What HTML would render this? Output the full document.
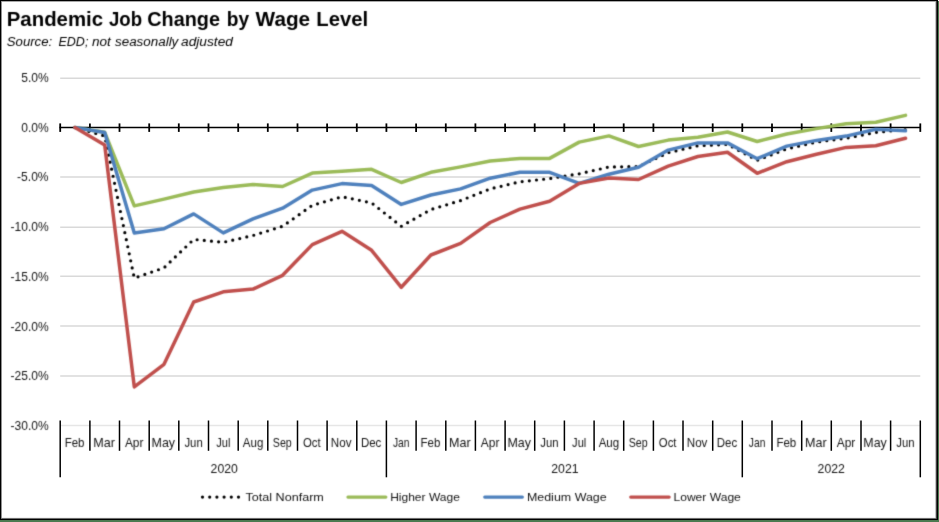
<!DOCTYPE html>
<html><head><meta charset="utf-8"><title>Pandemic Job Change by Wage Level</title>
<style>
html,body{margin:0;padding:0;background:#fff;}
body{width:939px;height:522px;overflow:hidden;position:relative;font-family:"Liberation Sans",sans-serif;}
svg{position:absolute;left:0;top:0;display:block;}
text{font-family:"Liberation Sans",sans-serif;fill:#000;}
.t{font-weight:bold;font-size:20.5px;}
.s{font-style:italic;font-size:12.5px;}
.a{font-size:12.4px;fill:#141414;}
.l{font-size:11.5px;fill:#141414;}
</style></head><body>
<svg width="939" height="522" viewBox="0 0 939 522">

<defs><filter id="soft" x="0" y="0" width="939" height="522" filterUnits="userSpaceOnUse" color-interpolation-filters="sRGB"><feConvolveMatrix order="3" kernelMatrix="0.0192 0.1001 0.0192 0.1001 0.5228 0.1001 0.0192 0.1001 0.0192" edgeMode="duplicate" preserveAlpha="false"/></filter></defs>
<rect x="0" y="0" width="939" height="522" fill="#fff"/>
<rect x="0" y="1" width="938" height="1" fill="#a8a8a8"/>
<rect x="1" y="0" width="1" height="520" fill="#909090"/>
<rect x="0" y="0" width="938" height="1" fill="#000"/>
<rect x="0" y="0" width="1" height="520" fill="#000"/>
<rect x="2" y="517" width="934" height="1" fill="#f2f2f2"/>
<rect x="1" y="518" width="936" height="1" fill="#6e6e6e"/>
<rect x="0" y="519" width="938" height="1" fill="#000"/>
<rect x="935" y="2" width="1" height="516" fill="#c4c4c4"/>
<rect x="936" y="1" width="1" height="518" fill="#404040"/>
<rect x="937" y="0" width="1" height="520" fill="#000"/>
<rect x="938" y="1" width="1" height="522" fill="#4b7a50"/>
<rect x="0" y="520" width="939" height="2" fill="#4b7a50"/>
<line x1="60.2" x2="920.3" y1="78.15" y2="78.15" stroke="#d9d9d9" stroke-width="1.5"/>
<line x1="60.2" x2="920.3" y1="176.95" y2="176.95" stroke="#d9d9d9" stroke-width="1.5"/>
<line x1="60.2" x2="920.3" y1="227.15" y2="227.15" stroke="#d9d9d9" stroke-width="1.5"/>
<line x1="60.2" x2="920.3" y1="276.35" y2="276.35" stroke="#d9d9d9" stroke-width="1.5"/>
<line x1="60.2" x2="920.3" y1="326.0" y2="326.0" stroke="#d9d9d9" stroke-width="1.5"/>
<line x1="60.2" x2="920.3" y1="376.0" y2="376.0" stroke="#d9d9d9" stroke-width="1.5"/>
<line x1="60.2" x2="920.3" y1="425.45" y2="425.45" stroke="#e6e6e6" stroke-width="1.5"/>
<line x1="60.2" x2="60.2" y1="420.5" y2="477.3" stroke="#000" stroke-width="1.5"/>
<line x1="89.9" x2="89.9" y1="420.5" y2="450.8" stroke="#000" stroke-width="1.5"/>
<line x1="119.5" x2="119.5" y1="420.5" y2="450.8" stroke="#000" stroke-width="1.5"/>
<line x1="149.2" x2="149.2" y1="420.5" y2="450.8" stroke="#000" stroke-width="1.5"/>
<line x1="178.8" x2="178.8" y1="420.5" y2="450.8" stroke="#000" stroke-width="1.5"/>
<line x1="208.5" x2="208.5" y1="420.5" y2="450.8" stroke="#000" stroke-width="1.5"/>
<line x1="238.2" x2="238.2" y1="420.5" y2="450.8" stroke="#000" stroke-width="1.5"/>
<line x1="267.8" x2="267.8" y1="420.5" y2="450.8" stroke="#000" stroke-width="1.5"/>
<line x1="297.5" x2="297.5" y1="420.5" y2="450.8" stroke="#000" stroke-width="1.5"/>
<line x1="327.1" x2="327.1" y1="420.5" y2="450.8" stroke="#000" stroke-width="1.5"/>
<line x1="356.8" x2="356.8" y1="420.5" y2="450.8" stroke="#000" stroke-width="1.5"/>
<line x1="386.4" x2="386.4" y1="420.5" y2="477.3" stroke="#000" stroke-width="1.5"/>
<line x1="416.1" x2="416.1" y1="420.5" y2="450.8" stroke="#000" stroke-width="1.5"/>
<line x1="445.8" x2="445.8" y1="420.5" y2="450.8" stroke="#000" stroke-width="1.5"/>
<line x1="475.4" x2="475.4" y1="420.5" y2="450.8" stroke="#000" stroke-width="1.5"/>
<line x1="505.1" x2="505.1" y1="420.5" y2="450.8" stroke="#000" stroke-width="1.5"/>
<line x1="534.7" x2="534.7" y1="420.5" y2="450.8" stroke="#000" stroke-width="1.5"/>
<line x1="564.4" x2="564.4" y1="420.5" y2="450.8" stroke="#000" stroke-width="1.5"/>
<line x1="594.1" x2="594.1" y1="420.5" y2="450.8" stroke="#000" stroke-width="1.5"/>
<line x1="623.7" x2="623.7" y1="420.5" y2="450.8" stroke="#000" stroke-width="1.5"/>
<line x1="653.4" x2="653.4" y1="420.5" y2="450.8" stroke="#000" stroke-width="1.5"/>
<line x1="683.0" x2="683.0" y1="420.5" y2="450.8" stroke="#000" stroke-width="1.5"/>
<line x1="712.7" x2="712.7" y1="420.5" y2="450.8" stroke="#000" stroke-width="1.5"/>
<line x1="742.3" x2="742.3" y1="420.5" y2="477.3" stroke="#000" stroke-width="1.5"/>
<line x1="772.0" x2="772.0" y1="420.5" y2="450.8" stroke="#000" stroke-width="1.5"/>
<line x1="801.7" x2="801.7" y1="420.5" y2="450.8" stroke="#000" stroke-width="1.5"/>
<line x1="831.3" x2="831.3" y1="420.5" y2="450.8" stroke="#000" stroke-width="1.5"/>
<line x1="861.0" x2="861.0" y1="420.5" y2="450.8" stroke="#000" stroke-width="1.5"/>
<line x1="890.6" x2="890.6" y1="420.5" y2="450.8" stroke="#000" stroke-width="1.5"/>
<line x1="920.3" x2="920.3" y1="420.5" y2="477.3" stroke="#000" stroke-width="1.5"/>
<line x1="59.5" x2="921" y1="127.5" y2="127.5" stroke="#000" stroke-width="1.6"/>
<line x1="60.2" x2="60.2" y1="123.4" y2="131.9" stroke="#000" stroke-width="1.8"/>
<line x1="89.9" x2="89.9" y1="123.4" y2="131.9" stroke="#000" stroke-width="1.8"/>
<line x1="119.5" x2="119.5" y1="123.4" y2="131.9" stroke="#000" stroke-width="1.8"/>
<line x1="149.2" x2="149.2" y1="123.4" y2="131.9" stroke="#000" stroke-width="1.8"/>
<line x1="178.8" x2="178.8" y1="123.4" y2="131.9" stroke="#000" stroke-width="1.8"/>
<line x1="208.5" x2="208.5" y1="123.4" y2="131.9" stroke="#000" stroke-width="1.8"/>
<line x1="238.2" x2="238.2" y1="123.4" y2="131.9" stroke="#000" stroke-width="1.8"/>
<line x1="267.8" x2="267.8" y1="123.4" y2="131.9" stroke="#000" stroke-width="1.8"/>
<line x1="297.5" x2="297.5" y1="123.4" y2="131.9" stroke="#000" stroke-width="1.8"/>
<line x1="327.1" x2="327.1" y1="123.4" y2="131.9" stroke="#000" stroke-width="1.8"/>
<line x1="356.8" x2="356.8" y1="123.4" y2="131.9" stroke="#000" stroke-width="1.8"/>
<line x1="386.4" x2="386.4" y1="123.4" y2="131.9" stroke="#000" stroke-width="1.8"/>
<line x1="416.1" x2="416.1" y1="123.4" y2="131.9" stroke="#000" stroke-width="1.8"/>
<line x1="445.8" x2="445.8" y1="123.4" y2="131.9" stroke="#000" stroke-width="1.8"/>
<line x1="475.4" x2="475.4" y1="123.4" y2="131.9" stroke="#000" stroke-width="1.8"/>
<line x1="505.1" x2="505.1" y1="123.4" y2="131.9" stroke="#000" stroke-width="1.8"/>
<line x1="534.7" x2="534.7" y1="123.4" y2="131.9" stroke="#000" stroke-width="1.8"/>
<line x1="564.4" x2="564.4" y1="123.4" y2="131.9" stroke="#000" stroke-width="1.8"/>
<line x1="594.1" x2="594.1" y1="123.4" y2="131.9" stroke="#000" stroke-width="1.8"/>
<line x1="623.7" x2="623.7" y1="123.4" y2="131.9" stroke="#000" stroke-width="1.8"/>
<line x1="653.4" x2="653.4" y1="123.4" y2="131.9" stroke="#000" stroke-width="1.8"/>
<line x1="683.0" x2="683.0" y1="123.4" y2="131.9" stroke="#000" stroke-width="1.8"/>
<line x1="712.7" x2="712.7" y1="123.4" y2="131.9" stroke="#000" stroke-width="1.8"/>
<line x1="742.3" x2="742.3" y1="123.4" y2="131.9" stroke="#000" stroke-width="1.8"/>
<line x1="772.0" x2="772.0" y1="123.4" y2="131.9" stroke="#000" stroke-width="1.8"/>
<line x1="801.7" x2="801.7" y1="123.4" y2="131.9" stroke="#000" stroke-width="1.8"/>
<line x1="831.3" x2="831.3" y1="123.4" y2="131.9" stroke="#000" stroke-width="1.8"/>
<line x1="861.0" x2="861.0" y1="123.4" y2="131.9" stroke="#000" stroke-width="1.8"/>
<line x1="890.6" x2="890.6" y1="123.4" y2="131.9" stroke="#000" stroke-width="1.8"/>
<line x1="920.3" x2="920.3" y1="123.4" y2="131.9" stroke="#000" stroke-width="1.8"/>
<g filter="url(#soft)">
<text class="t" x="6.76" y="25.6" textLength="96.35" lengthAdjust="spacingAndGlyphs">Pandemic</text>
<text class="t" x="108.97" y="25.6" textLength="33.09" lengthAdjust="spacingAndGlyphs">Job</text>
<text class="t" x="147.27" y="25.6" textLength="72.69" lengthAdjust="spacingAndGlyphs">Change</text>
<text class="t" x="226.83" y="25.6" textLength="22.34" lengthAdjust="spacingAndGlyphs">by</text>
<text class="t" x="255.60" y="25.6" textLength="54.58" lengthAdjust="spacingAndGlyphs">Wage</text>
<text class="t" x="316.27" y="25.6" textLength="51.74" lengthAdjust="spacingAndGlyphs">Level</text>
<text class="s" x="6.77" y="46.2" textLength="45.45" lengthAdjust="spacingAndGlyphs">Source:</text>
<text class="s" x="58.50" y="46.2" textLength="29.88" lengthAdjust="spacingAndGlyphs">EDD;</text>
<text class="s" x="92.03" y="46.2" textLength="18.88" lengthAdjust="spacingAndGlyphs">not</text>
<text class="s" x="115.03" y="46.2" textLength="63.32" lengthAdjust="spacingAndGlyphs">seasonally</text>
<text class="s" x="181.03" y="46.2" textLength="51.92" lengthAdjust="spacingAndGlyphs">adjusted</text>
<text class="a" x="21.21" y="82.0" textLength="27.47" lengthAdjust="spacingAndGlyphs">5.0%</text>
<text class="a" x="21.21" y="132.0" textLength="27.47" lengthAdjust="spacingAndGlyphs">0.0%</text>
<text class="a" x="17.08" y="181.0" textLength="31.48" lengthAdjust="spacingAndGlyphs">-5.0%</text>
<text class="a" x="10.52" y="231.0" textLength="38.18" lengthAdjust="spacingAndGlyphs">-10.0%</text>
<text class="a" x="10.52" y="281.0" textLength="38.18" lengthAdjust="spacingAndGlyphs">-15.0%</text>
<text class="a" x="10.52" y="331.0" textLength="38.18" lengthAdjust="spacingAndGlyphs">-20.0%</text>
<text class="a" x="10.52" y="380.0" textLength="38.18" lengthAdjust="spacingAndGlyphs">-25.0%</text>
<text class="a" x="10.52" y="430.0" textLength="38.18" lengthAdjust="spacingAndGlyphs">-30.0%</text>
<text class="a" x="64.65" y="446.6" textLength="19.79" lengthAdjust="spacingAndGlyphs">Feb</text>
<text class="a" x="93.22" y="446.6" textLength="21.66" lengthAdjust="spacingAndGlyphs">Mar</text>
<text class="a" x="124.90" y="446.6" textLength="18.59" lengthAdjust="spacingAndGlyphs">Apr</text>
<text class="a" x="151.55" y="446.6" textLength="23.47" lengthAdjust="spacingAndGlyphs">May</text>
<text class="a" x="184.43" y="446.6" textLength="18.30" lengthAdjust="spacingAndGlyphs">Jun</text>
<text class="a" x="216.20" y="446.6" textLength="14.18" lengthAdjust="spacingAndGlyphs">Jul</text>
<text class="a" x="242.78" y="446.6" textLength="20.54" lengthAdjust="spacingAndGlyphs">Aug</text>
<text class="a" x="272.80" y="446.6" textLength="18.91" lengthAdjust="spacingAndGlyphs">Sep</text>
<text class="a" x="302.94" y="446.6" textLength="17.69" lengthAdjust="spacingAndGlyphs">Oct</text>
<text class="a" x="330.87" y="446.6" textLength="20.68" lengthAdjust="spacingAndGlyphs">Nov</text>
<text class="a" x="360.89" y="446.6" textLength="20.43" lengthAdjust="spacingAndGlyphs">Dec</text>
<text class="a" x="392.92" y="446.6" textLength="16.51" lengthAdjust="spacingAndGlyphs">Jan</text>
<text class="a" x="420.56" y="446.6" textLength="19.79" lengthAdjust="spacingAndGlyphs">Feb</text>
<text class="a" x="449.13" y="446.6" textLength="21.66" lengthAdjust="spacingAndGlyphs">Mar</text>
<text class="a" x="480.80" y="446.6" textLength="18.59" lengthAdjust="spacingAndGlyphs">Apr</text>
<text class="a" x="507.46" y="446.6" textLength="23.47" lengthAdjust="spacingAndGlyphs">May</text>
<text class="a" x="540.34" y="446.6" textLength="18.30" lengthAdjust="spacingAndGlyphs">Jun</text>
<text class="a" x="572.10" y="446.6" textLength="14.18" lengthAdjust="spacingAndGlyphs">Jul</text>
<text class="a" x="598.68" y="446.6" textLength="20.54" lengthAdjust="spacingAndGlyphs">Aug</text>
<text class="a" x="628.70" y="446.6" textLength="18.91" lengthAdjust="spacingAndGlyphs">Sep</text>
<text class="a" x="658.84" y="446.6" textLength="17.69" lengthAdjust="spacingAndGlyphs">Oct</text>
<text class="a" x="686.77" y="446.6" textLength="20.68" lengthAdjust="spacingAndGlyphs">Nov</text>
<text class="a" x="716.79" y="446.6" textLength="20.43" lengthAdjust="spacingAndGlyphs">Dec</text>
<text class="a" x="748.82" y="446.6" textLength="16.51" lengthAdjust="spacingAndGlyphs">Jan</text>
<text class="a" x="776.46" y="446.6" textLength="19.79" lengthAdjust="spacingAndGlyphs">Feb</text>
<text class="a" x="805.03" y="446.6" textLength="21.66" lengthAdjust="spacingAndGlyphs">Mar</text>
<text class="a" x="836.70" y="446.6" textLength="18.59" lengthAdjust="spacingAndGlyphs">Apr</text>
<text class="a" x="863.36" y="446.6" textLength="23.47" lengthAdjust="spacingAndGlyphs">May</text>
<text class="a" x="896.24" y="446.6" textLength="18.30" lengthAdjust="spacingAndGlyphs">Jun</text>
<text class="a" x="210.58" y="472.9" textLength="27.32" lengthAdjust="spacingAndGlyphs">2020</text>
<text class="a" x="551.25" y="472.9" textLength="27.32" lengthAdjust="spacingAndGlyphs">2021</text>
<text class="a" x="817.58" y="472.9" textLength="27.32" lengthAdjust="spacingAndGlyphs">2022</text>
<text class="l" x="245.53" y="501.1" textLength="78.30" lengthAdjust="spacingAndGlyphs">Total Nonfarm</text>
<text class="l" x="390.15" y="501.1" textLength="69.70" lengthAdjust="spacingAndGlyphs">Higher Wage</text>
<text class="l" x="526.92" y="501.1" textLength="79.79" lengthAdjust="spacingAndGlyphs">Medium Wage</text>
<text class="l" x="673.45" y="501.1" textLength="67.42" lengthAdjust="spacingAndGlyphs">Lower Wage</text>
<path d="M75.0,127.5 L104.7,136.0 L134.3,278.1 L164.0,267.8 L193.7,239.4 L223.3,242.3 L253.0,235.5 L282.6,226.3 L312.3,205.3 L342.0,196.7 L371.6,202.9 L401.3,226.3 L430.9,209.5 L460.6,200.6 L490.2,188.9 L519.9,181.8 L549.6,178.6 L579.2,173.8 L608.9,167.0 L638.5,166.5 L668.2,152.7 L697.9,145.8 L727.5,144.4 L757.2,160.3 L786.8,148.9 L816.5,142.1 L846.2,138.2 L875.8,132.4 L905.5,129.5" fill="none" stroke="#000" stroke-width="3.2" stroke-linecap="round" stroke-linejoin="round" stroke-dasharray="0 7.2"/>
<path d="M75.0,127.5 L104.7,132.3 L134.3,205.9 L164.0,199.1 L193.7,192.0 L223.3,187.6 L253.0,184.4 L282.6,186.5 L312.3,173.1 L342.0,171.2 L371.6,169.3 L401.3,182.5 L430.9,172.3 L460.6,166.9 L490.2,161.0 L519.9,158.4 L549.6,158.4 L579.2,142.1 L608.9,135.9 L638.5,146.5 L668.2,140.1 L697.9,137.3 L727.5,132.0 L757.2,141.5 L786.8,134.0 L816.5,128.6 L846.2,123.7 L875.8,122.2 L905.5,115.4" fill="none" stroke="#9bbb59" stroke-width="3.5" stroke-linecap="round" stroke-linejoin="round"/>
<path d="M75.0,127.5 L104.7,132.5 L134.3,233.1 L164.0,228.8 L193.7,213.9 L223.3,232.9 L253.0,218.9 L282.6,208.2 L312.3,190.1 L342.0,183.6 L371.6,185.5 L401.3,204.4 L430.9,195.0 L460.6,188.9 L490.2,178.2 L519.9,172.3 L549.6,172.3 L579.2,183.4 L608.9,174.2 L638.5,167.2 L668.2,150.1 L697.9,142.9 L727.5,142.9 L757.2,158.7 L786.8,146.1 L816.5,140.4 L846.2,136.1 L875.8,129.3 L905.5,130.8" fill="none" stroke="#4f81bd" stroke-width="3.5" stroke-linecap="round" stroke-linejoin="round"/>
<path d="M75.0,127.5 L104.7,145.0 L134.3,386.9 L164.0,364.3 L193.7,302.0 L223.3,291.8 L253.0,289.1 L282.6,275.3 L312.3,244.6 L342.0,231.3 L371.6,250.3 L401.3,287.3 L430.9,255.0 L460.6,243.4 L490.2,222.5 L519.9,209.1 L549.6,201.3 L579.2,183.4 L608.9,178.0 L638.5,179.5 L668.2,166.1 L697.9,156.5 L727.5,152.3 L757.2,173.3 L786.8,161.7 L816.5,154.2 L846.2,147.4 L875.8,145.7 L905.5,138.2" fill="none" stroke="#c0504d" stroke-width="3.5" stroke-linecap="round" stroke-linejoin="round"/>
<path d="M202.5,497.1 L238.6,497.1" fill="none" stroke="#000" stroke-width="3.2" stroke-linecap="round" stroke-dasharray="0 7.2"/>
<line x1="347.9" x2="385.9" y1="497.1" y2="497.1" stroke="#9bbb59" stroke-width="3.1" stroke-linecap="round"/>
<line x1="484.7" x2="522.4" y1="497.1" y2="497.1" stroke="#4f81bd" stroke-width="3.1" stroke-linecap="round"/>
<line x1="630.7" x2="669.2" y1="497.1" y2="497.1" stroke="#c0504d" stroke-width="3.1" stroke-linecap="round"/>
</g></svg></body></html>
